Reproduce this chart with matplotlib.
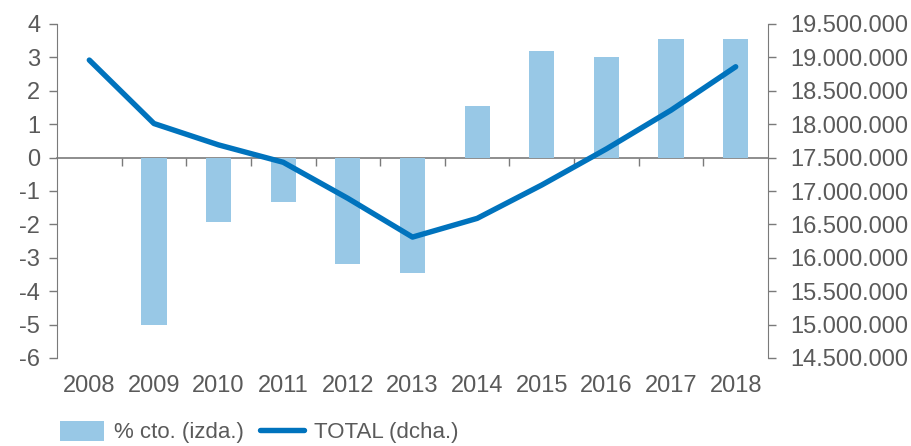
import matplotlib
matplotlib.use("Agg")
import matplotlib.pyplot as plt
import numpy as np
from matplotlib.ticker import FuncFormatter, FixedLocator, NullFormatter

years = ["2008", "2009", "2010", "2011", "2012", "2013",
         "2014", "2015", "2016", "2017", "2018"]
growth = [np.nan, -5.0, -1.94, -1.33, -3.18, -3.45, 1.55, 3.2, 3.0, 3.55, 3.55]
total = [18960000, 18010000, 17690000, 17430000, 16890000, 16310000,
         16590000, 17090000, 17630000, 18210000, 18860000]

bar_color = "#98c8e6"
line_color = "#0073bd"
grey = "#5a5a5a"
axis_grey = "#7a7a7a"

plt.rcParams['font.family'] = ['Liberation Sans', 'DejaVu Sans']
plt.rcParams['font.size'] = 17
plt.rcParams['axes.unicode_minus'] = False

fig = plt.figure(figsize=(9.12, 4.46), dpi=100)
ax = fig.add_axes([57/912, 1 - 358/446, (768 - 57)/912, (358 - 24)/446])

x = np.arange(len(years))
ax.bar(x, growth, width=0.39, color=bar_color, label="% cto. (izda.)", zorder=2)
ax.set_xlim(-0.5, len(years) - 0.5)
ax.set_ylim(-6, 4)
ax.set_yticks(range(-6, 5))

ax2 = ax.twinx()
ax2.plot(x, total, color=line_color, lw=3.9, solid_capstyle='round',
         solid_joinstyle='round', label="TOTAL (dcha.)", zorder=3)
ax2.set_ylim(14500000, 19500000)
ax2.set_yticks(np.arange(14500000, 19500001, 500000))
ax2.yaxis.set_major_formatter(FuncFormatter(lambda v, p: f"{int(v):,}".replace(",", ".")))

# x labels at the bottom, no ticks
ax.set_xticks(x)
ax.set_xticklabels(years)
ax.tick_params(axis='x', length=0, pad=12, colors=grey)

# zero line with ticks between categories
zero = ax.secondary_xaxis(0.6)
zero.xaxis.set_major_locator(FixedLocator(np.arange(0.5, len(years) - 1, 1)))
zero.xaxis.set_major_formatter(NullFormatter())
zero.tick_params(axis='x', direction='in', length=6, width=1, color=axis_grey)
for s in zero.spines.values():
    s.set_color(axis_grey)
    s.set_linewidth(1.2)

for a in (ax, ax2):
    a.spines['top'].set_visible(False)
    a.spines['bottom'].set_visible(False)
    a.spines['left'].set_color(axis_grey)
    a.spines['right'].set_color(axis_grey)
    a.tick_params(axis='y', length=6, width=1, color=axis_grey, labelcolor=grey)
ax.spines['right'].set_visible(False)
ax2.spines['left'].set_visible(False)
ax.tick_params(axis='y', pad=6)
ax2.tick_params(axis='y', pad=10)

h1, l1 = ax.get_legend_handles_labels()
h2, l2 = ax2.get_legend_handles_labels()
fig.legend(h1 + h2, l1 + l2, loc='center left', bbox_to_anchor=(40/912, 1 - 432/446),
           ncol=2, frameon=False, handlelength=2.0, handleheight=1.0, fontsize=16,
           columnspacing=0.7, handletextpad=0.45, labelcolor=grey)

fig.savefig("out.png", dpi=100)
